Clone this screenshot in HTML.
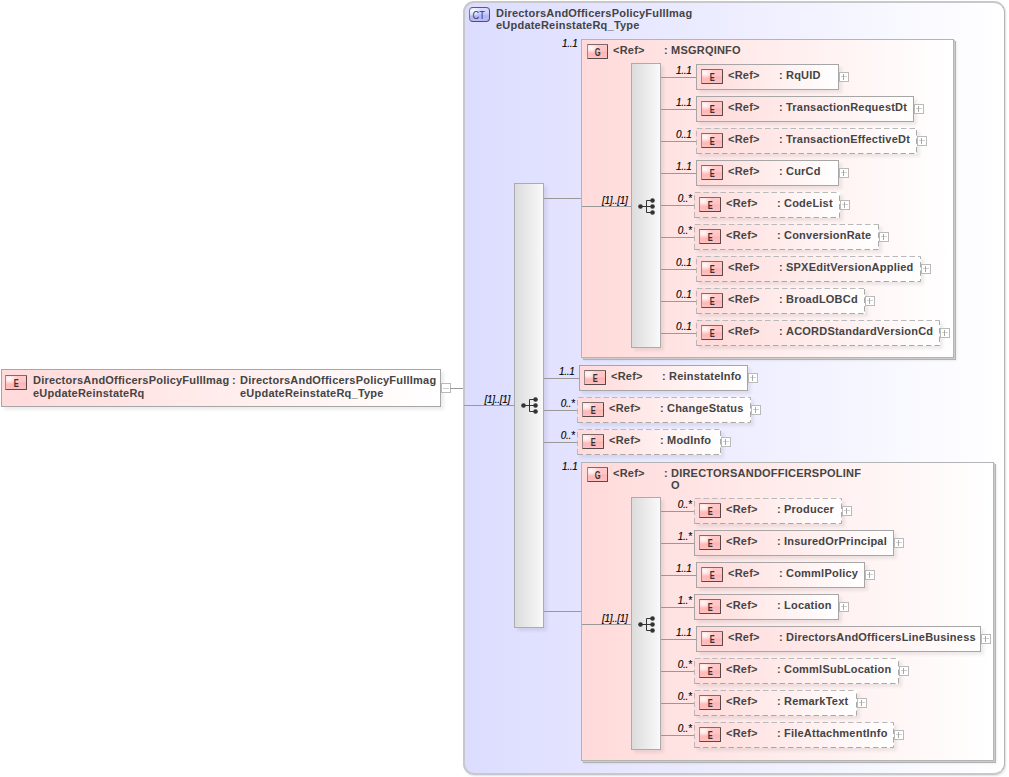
<!DOCTYPE html><html><head><meta charset="utf-8"><style>
html,body{margin:0;padding:0;background:#fff;width:1009px;height:777px;overflow:hidden;position:relative}
div,svg{position:absolute;box-sizing:border-box}
.t{font-family:"Liberation Sans",sans-serif;font-weight:bold;font-size:11px;line-height:12px;color:#444;white-space:nowrap;letter-spacing:0.22px}
.occ{font-family:"Liberation Sans",sans-serif;font-style:italic;font-size:10px;line-height:10px;letter-spacing:-0.3px;color:#000;width:60px;text-align:right;white-space:nowrap;-webkit-text-stroke:0.12px #000}
.lh{height:1px;background:#999}
.el{border:1px solid #a6a6a6;background:linear-gradient(to right,#ffdada,#ffffff);box-shadow:3px 3px 3px rgba(0,0,0,0.07)}
.el.dash{border:none}
.eb,.gb{width:22px;height:15px;border:1px solid;border-color:#7d6a6a #584848 #584848 #9c8888;border-radius:1px;background:radial-gradient(ellipse 9px 6px at 3px 3px,rgba(255,255,255,0.95),rgba(255,255,255,0) 100%),linear-gradient(to bottom,#ffcaca 0%,#ffc4c4 45%,#ffb4b4 55%,#ffc2c2 100%);font-family:"Liberation Sans",sans-serif;font-size:11px;line-height:13px;text-align:center;color:#3a3030;font-weight:bold}
.eb span,.gb span{display:inline-block;transform:translate(0.5px,0.5px) scaleX(0.68)}
.ctb span{display:inline-block;transform:translateX(-0.5px) scaleX(0.85)}
.ctb{width:21px;height:15px;border:1px solid;border-color:#5c5c64 #50505a #50505a #7a7a84;border-radius:4px;background:radial-gradient(ellipse 8px 6px at 3px 3px,rgba(255,255,255,0.9),rgba(255,255,255,0) 100%),linear-gradient(to bottom,#dcdcff 0%,#ccccfc 45%,#b4b4f6 60%,#bcbcf8 100%);font-family:"Liberation Sans",sans-serif;font-size:11px;line-height:14px;text-align:center;color:#404040}
.pl{width:10px;height:10px;border:1px solid #bababa;background:#fff}
.ph{left:1px;top:3px;width:6px;height:1px;background:#d0d0d0}
.pv{left:3px;top:1px;width:1px;height:6px;background:#a8a8a8}
.seq{border:1px solid #ababab;background:linear-gradient(to right,#dcdcdc,#f9f9f9);box-shadow:3px 3px 3px rgba(0,0,0,0.07)}
.grp{border:1px solid #b4b4b4;background:linear-gradient(to right,#ffdada,#ffffff);box-shadow:1px 1px 0 #cccccc,2px 2px 0 #b2b2b2,3px 3px 2px rgba(0,0,0,0.06)}
.ct{border:2px solid #c8c8cc;border-right:1px solid #b4b4b4;border-radius:11px;background:linear-gradient(to right,#dcdcff,#ffffff);box-shadow:1px 1px 2px rgba(0,0,0,0.13)}
</style></head><body>
<div class="el" style="left:1px;top:369px;width:440px;height:38px"></div>
<div class="eb" style="left:5px;top:375px;width:22px"><span>E</span></div>
<div class="t" style="left:33px;top:374px;line-height:12.8px">DirectorsAndOfficersPolicyFullImag<br>eUpdateReinstateRq</div>
<div class="t" style="left:232px;top:374px">:</div>
<div class="t" style="left:240px;top:374px;line-height:12.8px">DirectorsAndOfficersPolicyFullImag<br>eUpdateReinstateRq_Type</div>
<div class="pl" style="left:441px;top:383px"><div class="ph" style="top:4px"></div></div>
<div class="lh" style="left:450px;top:388px;width:13px"></div>
<div class="ct" style="left:463px;top:1px;width:542px;height:774px"></div>
<div class="ctb" style="left:469px;top:7px"><span>CT</span></div>
<div class="t" style="left:496px;top:7px">DirectorsAndOfficersPolicyFullImag<br>eUpdateReinstateRq_Type</div>
<div class="lh" style="left:464px;top:405px;width:50px"></div>
<div class="occ" style="left:450.0px;top:394.5px">[1]..[1]</div>
<div class="seq" style="left:514px;top:183px;width:30px;height:445px"></div>
<svg class="ico" style="left:519px;top:395px" width="20" height="20" viewBox="0 0 20 20">
<g fill="#333" stroke="#333" stroke-width="1">
<path d="M5.5 10.5H16.5M10.5 4.5V16.5M10.5 4.5H16.5M10.5 16.5H16.5" fill="none"/>
<circle cx="4.5" cy="10.5" r="2.3" stroke="none"/><circle cx="16.5" cy="4.5" r="2.3" stroke="none"/><circle cx="16.5" cy="10.5" r="2.3" stroke="none"/><circle cx="16.5" cy="16.5" r="2.3" stroke="none"/>
</g></svg>
<div class="lh" style="left:544px;top:198px;width:37px"></div>
<div class="occ" style="left:517.5px;top:39px">1..1</div>
<div class="grp" style="left:581px;top:39px;width:373px;height:319px"></div>
<div class="gb" style="left:587px;top:44px;width:21px"><span>G</span></div>
<div class="t" style="left:613px;top:44px">&lt;Ref&gt;</div>
<div class="t" style="left:664px;top:44px">:</div>
<div class="t" style="left:671px;top:44px">MSGRQINFO</div>
<div class="lh" style="left:582px;top:206px;width:49px"></div>
<div class="occ" style="left:567.5px;top:195.5px">[1]..[1]</div>
<div class="seq" style="left:631px;top:63px;width:30px;height:285px"></div>
<svg class="ico" style="left:636px;top:195.7px" width="20" height="20" viewBox="0 0 20 20">
<g fill="#333" stroke="#333" stroke-width="1">
<path d="M5.5 10.5H16.5M10.5 4.5V16.5M10.5 4.5H16.5M10.5 16.5H16.5" fill="none"/>
<circle cx="4.5" cy="10.5" r="2.3" stroke="none"/><circle cx="16.5" cy="4.5" r="2.3" stroke="none"/><circle cx="16.5" cy="10.5" r="2.3" stroke="none"/><circle cx="16.5" cy="16.5" r="2.3" stroke="none"/>
</g></svg>
<div class="lh" style="left:661px;top:77px;width:35px"></div>
<div class="occ" style="left:631.5px;top:66px">1..1</div>
<div class="el" style="left:696px;top:64px;width:143px;height:26px"></div>
<div class="eb" style="left:701px;top:69px;width:22px"><span>E</span></div>
<div class="t" style="left:728px;top:69px">&lt;Ref&gt;</div>
<div class="t" style="left:779px;top:69px">:</div>
<div class="t" style="left:786px;top:69px">RqUID</div>
<div class="pl" style="left:839px;top:72px"><div class="ph"></div><div class="pv"></div></div>
<div class="lh" style="left:661px;top:109px;width:35px"></div>
<div class="occ" style="left:631.5px;top:98px">1..1</div>
<div class="el" style="left:696px;top:96px;width:218px;height:26px"></div>
<div class="eb" style="left:701px;top:101px;width:22px"><span>E</span></div>
<div class="t" style="left:728px;top:101px">&lt;Ref&gt;</div>
<div class="t" style="left:779px;top:101px">:</div>
<div class="t" style="left:786px;top:101px">TransactionRequestDt</div>
<div class="pl" style="left:914px;top:104px"><div class="ph"></div><div class="pv"></div></div>
<div class="lh" style="left:661px;top:141px;width:35px"></div>
<div class="occ" style="left:631.5px;top:130px">0..1</div>
<div class="el dash" style="left:696px;top:128px;width:221px;height:26px"><svg width="221" height="26" style="left:0;top:0"><path d="M0.5 25.5V0.5H220.5" fill="none" stroke="#b9b9b9" stroke-dasharray="5.5 3"/><path d="M0.5 25.5H220.5V0.5" fill="none" stroke="#a9a9a9" stroke-dasharray="5.5 3"/></svg></div>
<div class="eb" style="left:701px;top:133px;width:22px"><span>E</span></div>
<div class="t" style="left:728px;top:133px">&lt;Ref&gt;</div>
<div class="t" style="left:779px;top:133px">:</div>
<div class="t" style="left:786px;top:133px">TransactionEffectiveDt</div>
<div class="pl" style="left:917px;top:136px"><div class="ph"></div><div class="pv"></div></div>
<div class="lh" style="left:661px;top:173px;width:35px"></div>
<div class="occ" style="left:631.5px;top:162px">1..1</div>
<div class="el" style="left:696px;top:160px;width:143px;height:26px"></div>
<div class="eb" style="left:701px;top:165px;width:22px"><span>E</span></div>
<div class="t" style="left:728px;top:165px">&lt;Ref&gt;</div>
<div class="t" style="left:779px;top:165px">:</div>
<div class="t" style="left:786px;top:165px">CurCd</div>
<div class="pl" style="left:839px;top:168px"><div class="ph"></div><div class="pv"></div></div>
<div class="lh" style="left:661px;top:205px;width:33px"></div>
<div class="occ" style="left:631.5px;top:194px">0..*</div>
<div class="el dash" style="left:694px;top:192px;width:146px;height:26px"><svg width="146" height="26" style="left:0;top:0"><path d="M0.5 25.5V0.5H145.5" fill="none" stroke="#b9b9b9" stroke-dasharray="5.5 3"/><path d="M0.5 25.5H145.5V0.5" fill="none" stroke="#a9a9a9" stroke-dasharray="5.5 3"/></svg></div>
<div class="eb" style="left:699px;top:197px;width:22px"><span>E</span></div>
<div class="t" style="left:726px;top:197px">&lt;Ref&gt;</div>
<div class="t" style="left:777px;top:197px">:</div>
<div class="t" style="left:784px;top:197px">CodeList</div>
<div class="pl" style="left:840px;top:200px"><div class="ph"></div><div class="pv"></div></div>
<div class="lh" style="left:661px;top:237px;width:33px"></div>
<div class="occ" style="left:631.5px;top:226px">0..*</div>
<div class="el dash" style="left:694px;top:224px;width:185px;height:26px"><svg width="185" height="26" style="left:0;top:0"><path d="M0.5 25.5V0.5H184.5" fill="none" stroke="#b9b9b9" stroke-dasharray="5.5 3"/><path d="M0.5 25.5H184.5V0.5" fill="none" stroke="#a9a9a9" stroke-dasharray="5.5 3"/></svg></div>
<div class="eb" style="left:699px;top:229px;width:22px"><span>E</span></div>
<div class="t" style="left:726px;top:229px">&lt;Ref&gt;</div>
<div class="t" style="left:777px;top:229px">:</div>
<div class="t" style="left:784px;top:229px">ConversionRate</div>
<div class="pl" style="left:879px;top:232px"><div class="ph"></div><div class="pv"></div></div>
<div class="lh" style="left:661px;top:269px;width:35px"></div>
<div class="occ" style="left:631.5px;top:258px">0..1</div>
<div class="el dash" style="left:696px;top:256px;width:225px;height:26px"><svg width="225" height="26" style="left:0;top:0"><path d="M0.5 25.5V0.5H224.5" fill="none" stroke="#b9b9b9" stroke-dasharray="5.5 3"/><path d="M0.5 25.5H224.5V0.5" fill="none" stroke="#a9a9a9" stroke-dasharray="5.5 3"/></svg></div>
<div class="eb" style="left:701px;top:261px;width:22px"><span>E</span></div>
<div class="t" style="left:728px;top:261px">&lt;Ref&gt;</div>
<div class="t" style="left:779px;top:261px">:</div>
<div class="t" style="left:786px;top:261px">SPXEditVersionApplied</div>
<div class="pl" style="left:921px;top:264px"><div class="ph"></div><div class="pv"></div></div>
<div class="lh" style="left:661px;top:301px;width:35px"></div>
<div class="occ" style="left:631.5px;top:290px">0..1</div>
<div class="el dash" style="left:696px;top:288px;width:169px;height:26px"><svg width="169" height="26" style="left:0;top:0"><path d="M0.5 25.5V0.5H168.5" fill="none" stroke="#b9b9b9" stroke-dasharray="5.5 3"/><path d="M0.5 25.5H168.5V0.5" fill="none" stroke="#a9a9a9" stroke-dasharray="5.5 3"/></svg></div>
<div class="eb" style="left:701px;top:293px;width:22px"><span>E</span></div>
<div class="t" style="left:728px;top:293px">&lt;Ref&gt;</div>
<div class="t" style="left:779px;top:293px">:</div>
<div class="t" style="left:786px;top:293px">BroadLOBCd</div>
<div class="pl" style="left:865px;top:296px"><div class="ph"></div><div class="pv"></div></div>
<div class="lh" style="left:661px;top:333px;width:35px"></div>
<div class="occ" style="left:631.5px;top:322px">0..1</div>
<div class="el dash" style="left:696px;top:320px;width:244px;height:26px"><svg width="244" height="26" style="left:0;top:0"><path d="M0.5 25.5V0.5H243.5" fill="none" stroke="#b9b9b9" stroke-dasharray="5.5 3"/><path d="M0.5 25.5H243.5V0.5" fill="none" stroke="#a9a9a9" stroke-dasharray="5.5 3"/></svg></div>
<div class="eb" style="left:701px;top:325px;width:22px"><span>E</span></div>
<div class="t" style="left:728px;top:325px">&lt;Ref&gt;</div>
<div class="t" style="left:779px;top:325px">:</div>
<div class="t" style="left:786px;top:325px">ACORDStandardVersionCd</div>
<div class="pl" style="left:940px;top:328px"><div class="ph"></div><div class="pv"></div></div>
<div class="lh" style="left:544px;top:378px;width:35px"></div>
<div class="occ" style="left:514.5px;top:367px">1..1</div>
<div class="el" style="left:579px;top:365px;width:169px;height:26px"></div>
<div class="eb" style="left:584px;top:370px;width:22px"><span>E</span></div>
<div class="t" style="left:611px;top:370px">&lt;Ref&gt;</div>
<div class="t" style="left:662px;top:370px">:</div>
<div class="t" style="left:669px;top:370px">ReinstateInfo</div>
<div class="pl" style="left:748px;top:373px"><div class="ph"></div><div class="pv"></div></div>
<div class="lh" style="left:544px;top:410px;width:33px"></div>
<div class="occ" style="left:514.5px;top:399px">0..*</div>
<div class="el dash" style="left:577px;top:397px;width:174px;height:26px"><svg width="174" height="26" style="left:0;top:0"><path d="M0.5 25.5V0.5H173.5" fill="none" stroke="#b9b9b9" stroke-dasharray="5.5 3"/><path d="M0.5 25.5H173.5V0.5" fill="none" stroke="#a9a9a9" stroke-dasharray="5.5 3"/></svg></div>
<div class="eb" style="left:582px;top:402px;width:22px"><span>E</span></div>
<div class="t" style="left:609px;top:402px">&lt;Ref&gt;</div>
<div class="t" style="left:660px;top:402px">:</div>
<div class="t" style="left:667px;top:402px">ChangeStatus</div>
<div class="pl" style="left:751px;top:405px"><div class="ph"></div><div class="pv"></div></div>
<div class="lh" style="left:544px;top:442px;width:33px"></div>
<div class="occ" style="left:514.5px;top:431px">0..*</div>
<div class="el dash" style="left:577px;top:429px;width:144px;height:26px"><svg width="144" height="26" style="left:0;top:0"><path d="M0.5 25.5V0.5H143.5" fill="none" stroke="#b9b9b9" stroke-dasharray="5.5 3"/><path d="M0.5 25.5H143.5V0.5" fill="none" stroke="#a9a9a9" stroke-dasharray="5.5 3"/></svg></div>
<div class="eb" style="left:582px;top:434px;width:22px"><span>E</span></div>
<div class="t" style="left:609px;top:434px">&lt;Ref&gt;</div>
<div class="t" style="left:660px;top:434px">:</div>
<div class="t" style="left:667px;top:434px">ModInfo</div>
<div class="pl" style="left:721px;top:437px"><div class="ph"></div><div class="pv"></div></div>
<div class="lh" style="left:544px;top:611px;width:37px"></div>
<div class="occ" style="left:517.5px;top:462px">1..1</div>
<div class="grp" style="left:581px;top:462px;width:413px;height:299px"></div>
<div class="gb" style="left:587px;top:467px;width:21px"><span>G</span></div>
<div class="t" style="left:613px;top:467px">&lt;Ref&gt;</div>
<div class="t" style="left:664px;top:467px">:</div>
<div class="t" style="left:671px;top:467px">DIRECTORSANDOFFICERSPOLINF<br>O</div>
<div class="lh" style="left:582px;top:624px;width:49px"></div>
<div class="occ" style="left:567.5px;top:613.5px">[1]..[1]</div>
<div class="seq" style="left:631px;top:497px;width:30px;height:253px"></div>
<svg class="ico" style="left:636px;top:614px" width="20" height="20" viewBox="0 0 20 20">
<g fill="#333" stroke="#333" stroke-width="1">
<path d="M5.5 10.5H16.5M10.5 4.5V16.5M10.5 4.5H16.5M10.5 16.5H16.5" fill="none"/>
<circle cx="4.5" cy="10.5" r="2.3" stroke="none"/><circle cx="16.5" cy="4.5" r="2.3" stroke="none"/><circle cx="16.5" cy="10.5" r="2.3" stroke="none"/><circle cx="16.5" cy="16.5" r="2.3" stroke="none"/>
</g></svg>
<div class="lh" style="left:661px;top:511px;width:33px"></div>
<div class="occ" style="left:631.5px;top:500px">0..*</div>
<div class="el dash" style="left:694px;top:498px;width:148px;height:26px"><svg width="148" height="26" style="left:0;top:0"><path d="M0.5 25.5V0.5H147.5" fill="none" stroke="#b9b9b9" stroke-dasharray="5.5 3"/><path d="M0.5 25.5H147.5V0.5" fill="none" stroke="#a9a9a9" stroke-dasharray="5.5 3"/></svg></div>
<div class="eb" style="left:699px;top:503px;width:22px"><span>E</span></div>
<div class="t" style="left:726px;top:503px">&lt;Ref&gt;</div>
<div class="t" style="left:777px;top:503px">:</div>
<div class="t" style="left:784px;top:503px">Producer</div>
<div class="pl" style="left:842px;top:506px"><div class="ph"></div><div class="pv"></div></div>
<div class="lh" style="left:661px;top:543px;width:33px"></div>
<div class="occ" style="left:631.5px;top:532px">1..*</div>
<div class="el" style="left:694px;top:530px;width:200px;height:26px"></div>
<div class="eb" style="left:699px;top:535px;width:22px"><span>E</span></div>
<div class="t" style="left:726px;top:535px">&lt;Ref&gt;</div>
<div class="t" style="left:777px;top:535px">:</div>
<div class="t" style="left:784px;top:535px">InsuredOrPrincipal</div>
<div class="pl" style="left:894px;top:538px"><div class="ph"></div><div class="pv"></div></div>
<div class="lh" style="left:661px;top:575px;width:35px"></div>
<div class="occ" style="left:631.5px;top:564px">1..1</div>
<div class="el" style="left:696px;top:562px;width:169px;height:26px"></div>
<div class="eb" style="left:701px;top:567px;width:22px"><span>E</span></div>
<div class="t" style="left:728px;top:567px">&lt;Ref&gt;</div>
<div class="t" style="left:779px;top:567px">:</div>
<div class="t" style="left:786px;top:567px">CommlPolicy</div>
<div class="pl" style="left:865px;top:570px"><div class="ph"></div><div class="pv"></div></div>
<div class="lh" style="left:661px;top:607px;width:33px"></div>
<div class="occ" style="left:631.5px;top:596px">1..*</div>
<div class="el" style="left:694px;top:594px;width:145px;height:26px"></div>
<div class="eb" style="left:699px;top:599px;width:22px"><span>E</span></div>
<div class="t" style="left:726px;top:599px">&lt;Ref&gt;</div>
<div class="t" style="left:777px;top:599px">:</div>
<div class="t" style="left:784px;top:599px">Location</div>
<div class="pl" style="left:839px;top:602px"><div class="ph"></div><div class="pv"></div></div>
<div class="lh" style="left:661px;top:639px;width:35px"></div>
<div class="occ" style="left:631.5px;top:628px">1..1</div>
<div class="el" style="left:696px;top:626px;width:285px;height:26px"></div>
<div class="eb" style="left:701px;top:631px;width:22px"><span>E</span></div>
<div class="t" style="left:728px;top:631px">&lt;Ref&gt;</div>
<div class="t" style="left:779px;top:631px">:</div>
<div class="t" style="left:786px;top:631px">DirectorsAndOfficersLineBusiness</div>
<div class="pl" style="left:981px;top:634px"><div class="ph"></div><div class="pv"></div></div>
<div class="lh" style="left:661px;top:671px;width:33px"></div>
<div class="occ" style="left:631.5px;top:660px">0..*</div>
<div class="el dash" style="left:694px;top:658px;width:205px;height:26px"><svg width="205" height="26" style="left:0;top:0"><path d="M0.5 25.5V0.5H204.5" fill="none" stroke="#b9b9b9" stroke-dasharray="5.5 3"/><path d="M0.5 25.5H204.5V0.5" fill="none" stroke="#a9a9a9" stroke-dasharray="5.5 3"/></svg></div>
<div class="eb" style="left:699px;top:663px;width:22px"><span>E</span></div>
<div class="t" style="left:726px;top:663px">&lt;Ref&gt;</div>
<div class="t" style="left:777px;top:663px">:</div>
<div class="t" style="left:784px;top:663px">CommlSubLocation</div>
<div class="pl" style="left:899px;top:666px"><div class="ph"></div><div class="pv"></div></div>
<div class="lh" style="left:661px;top:703px;width:33px"></div>
<div class="occ" style="left:631.5px;top:692px">0..*</div>
<div class="el dash" style="left:694px;top:690px;width:163px;height:26px"><svg width="163" height="26" style="left:0;top:0"><path d="M0.5 25.5V0.5H162.5" fill="none" stroke="#b9b9b9" stroke-dasharray="5.5 3"/><path d="M0.5 25.5H162.5V0.5" fill="none" stroke="#a9a9a9" stroke-dasharray="5.5 3"/></svg></div>
<div class="eb" style="left:699px;top:695px;width:22px"><span>E</span></div>
<div class="t" style="left:726px;top:695px">&lt;Ref&gt;</div>
<div class="t" style="left:777px;top:695px">:</div>
<div class="t" style="left:784px;top:695px">RemarkText</div>
<div class="pl" style="left:857px;top:698px"><div class="ph"></div><div class="pv"></div></div>
<div class="lh" style="left:661px;top:735px;width:33px"></div>
<div class="occ" style="left:631.5px;top:724px">0..*</div>
<div class="el dash" style="left:694px;top:722px;width:200px;height:26px"><svg width="200" height="26" style="left:0;top:0"><path d="M0.5 25.5V0.5H199.5" fill="none" stroke="#b9b9b9" stroke-dasharray="5.5 3"/><path d="M0.5 25.5H199.5V0.5" fill="none" stroke="#a9a9a9" stroke-dasharray="5.5 3"/></svg></div>
<div class="eb" style="left:699px;top:727px;width:22px"><span>E</span></div>
<div class="t" style="left:726px;top:727px">&lt;Ref&gt;</div>
<div class="t" style="left:777px;top:727px">:</div>
<div class="t" style="left:784px;top:727px">FileAttachmentInfo</div>
<div class="pl" style="left:894px;top:730px"><div class="ph"></div><div class="pv"></div></div>
</body></html>
